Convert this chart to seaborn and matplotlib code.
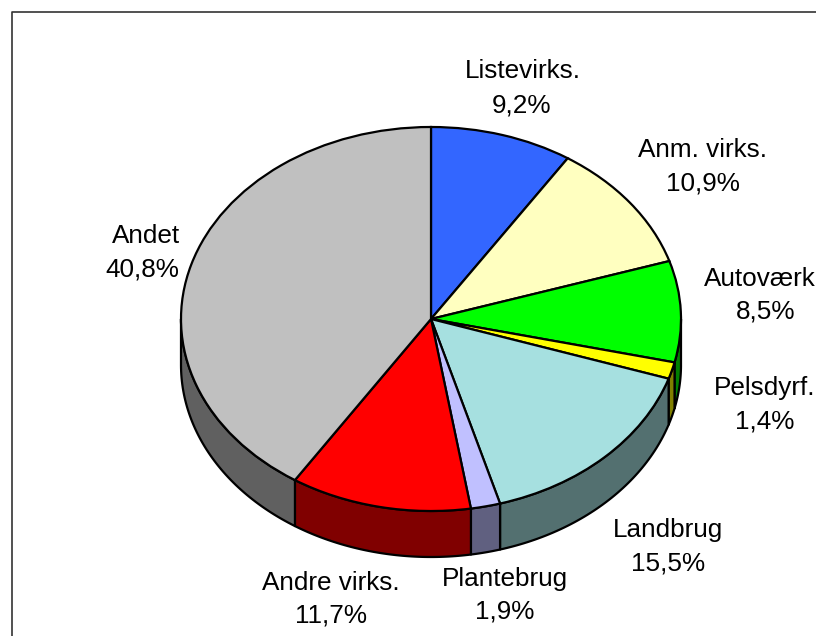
# library imports
import numpy as np
import seaborn as sns
import matplotlib.pyplot as plt
from matplotlib.lines import Line2D

# data
categories = ["Listevirks.", "Anm. virks.", "Autoværk", "Pelsdyrf.",
              "Landbrug", "Plantebrug", "Andre virks.", "Andet"]
shares = [9.2, 10.9, 8.5, 1.4, 15.5, 1.9, 11.7, 40.8]
slice_colors = ["#3366FF", "#FFFFC0", "#00FF00", "#FFFF00",
                "#A6E0E0", "#C0C0FF", "#FF0000", "#C0C0C0"]

# layout in pixels of the 816x636 picture
WIDTH, HEIGHT = 816, 636
CENTER_X, CENTER_Y = 431, 319
RADIUS_X, RADIUS_Y = 250, 192
DEPTH = 46 / RADIUS_Y
FONT_SIZE = 18.8
name_pos = [(523, 71), (703, 150), (760, 279), (765, 388),
            (668, 530), (505, 579), (331, 583), (146, 236)]
share_pos = [(522, 106), (703, 183), (766, 312), (765, 421),
             (668, 563), (505, 612), (331, 616), (142, 270)]


def to_data(px, py):
    return (px - CENTER_X) / RADIUS_X, (CENTER_Y - py) / RADIUS_Y


sns.set_theme(style="white")
plt.rcParams['font.family'] = ['Liberation Sans', 'DejaVu Sans']
palette = sns.color_palette(slice_colors)

fig = plt.figure(figsize=(WIDTH / 100, HEIGHT / 100), dpi=100)
ax = fig.add_axes([0, 0, 1, 1])

# side of the disc: only the part of each slice facing the viewer
ends = np.cumsum(shares) / np.sum(shares) * 2 * np.pi
starts = np.concatenate(([0], ends[:-1]))
for start, end, color in zip(starts, ends, palette):
    low, high = max(start, np.pi / 2), min(end, 3 * np.pi / 2)
    if low >= high:
        continue
    theta = np.linspace(low, high, 60)
    x, y = np.sin(theta), np.cos(theta)
    ax.fill(np.r_[x, x[::-1]], np.r_[y, y[::-1] - DEPTH],
            facecolor=np.array(color) * 0.5,
            edgecolor="black",
            linewidth=1.6,
            joinstyle="round")

# top of the disc
ax.pie(shares,
       colors=palette,
       startangle=90,
       counterclock=False,
       wedgeprops={"edgecolor": "black", "linewidth": 1.6})
ax.set_aspect("auto")
ax.set_xlim(to_data(0, 0)[0], to_data(WIDTH, 0)[0])
ax.set_ylim(to_data(0, HEIGHT)[1], to_data(0, 0)[1])

for name, share, n_pos, s_pos in zip(categories, shares, name_pos, share_pos):
    ax.text(*to_data(*n_pos), name, fontsize=FONT_SIZE, color="black",
            ha="center", va="center")
    ax.text(*to_data(*s_pos), f"{share:.1f}%".replace(".", ","), fontsize=FONT_SIZE,
            color="black", ha="center", va="center")

# chart frame, runs off the right and bottom of the picture
fig.add_artist(Line2D([11.5 / WIDTH, 11.5 / WIDTH, 1],
                      [0, 1 - 11.5 / HEIGHT, 1 - 11.5 / HEIGHT],
                      color="#333333",
                      linewidth=1.2))

plt.savefig("out.png", dpi=100)
plt.close()
